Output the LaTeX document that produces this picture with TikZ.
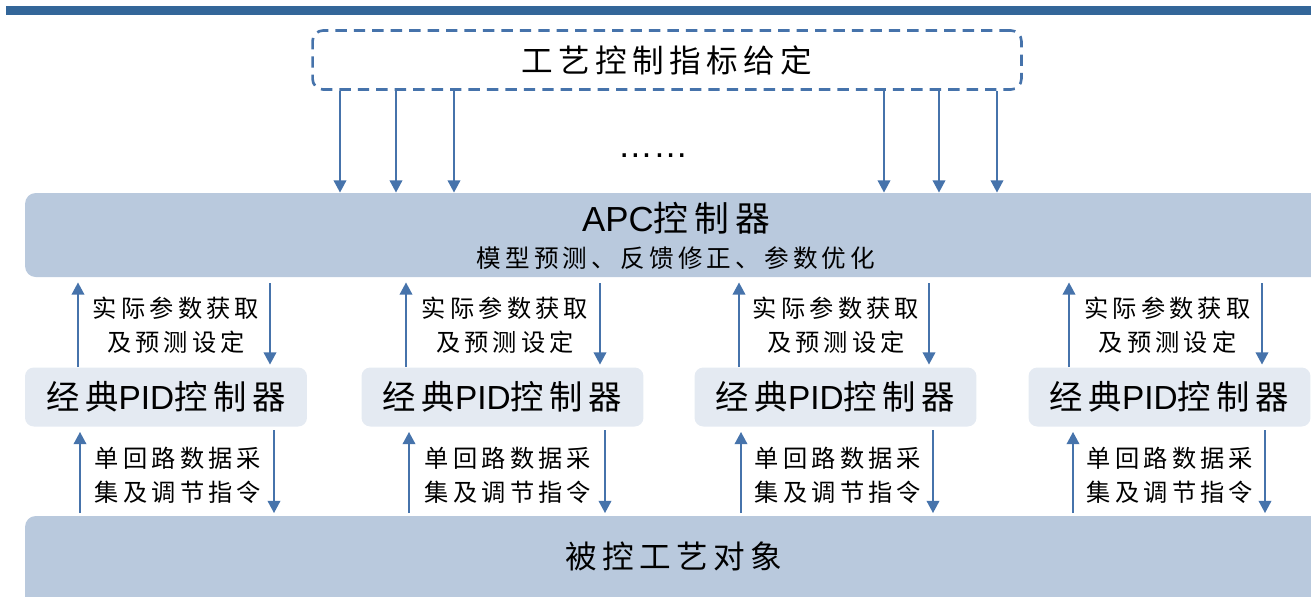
\documentclass[tikz,border=0pt]{standalone}
\usepackage{fontspec}
\setmainfont{Liberation Sans}
\newfontfamily\cjk[LetterSpace=17]{Noto Sans CJK SC}
\usetikzlibrary{arrows.meta}

\definecolor{bandblue}{HTML}{336699}
\definecolor{linkblue}{HTML}{4673AB}
\definecolor{layerfill}{HTML}{B9C9DD}
\definecolor{pidfill}{HTML}{E4EAF2}

\tikzset{
    target box/.style={draw=linkblue, line width=1.5pt, dash pattern=on 6.5pt off 4pt,
        rounded corners=6pt, minimum width=14.18cm, minimum height=1.18cm},
    layer box/.style={fill=layerfill, rounded corners=6pt, minimum width=26.2cm},
    pid box/.style={fill=pidfill, rounded corners=5pt, minimum width=5.64cm,
        minimum height=1.18cm, font=\fontsize{19}{22}\selectfont},
    link/.style={-{Triangle[length=7pt, width=7pt]}, line width=1.5pt, linkblue},
    label text/.style={font=\fontsize{13.8}{19.4}\selectfont\cjk, align=center, inner sep=0pt},
}

\begin{document}
\begin{tikzpicture}[x=0.02cm, y=-0.02cm]

    \useasboundingbox (0,0) rectangle (1311,596);

    % Top band
    \fill[bandblue] (6,6) rectangle (1311,15);

    % Process targets
    \node[target box, font=\fontsize{18}{22}\selectfont\cjk] (target) at (667,60) {工艺控制指标给定};

    % APC layer
    \node[layer box, minimum height=1.68cm] (apc) at (680,235) {};
    \node[font=\fontsize{19.8}{22}\selectfont, inner sep=0pt] (apctitle) at (676,218) {APC{\cjk 控制器}};
    \node[font=\fontsize{14}{16}\selectfont\cjk, inner sep=0pt] (apcsub) at (676,258) {模型预测、反馈修正、参数优化};

    % Set-point arrows into the APC layer
    \foreach \x in {340, 396, 454, 884, 939, 997} {
        \draw[link] (target.south -| \x,0) -- (apc.north -| \x,0);
    }
    \node[font=\fontsize{20}{20}\selectfont, anchor=base] (dots) at (653,157) {……};

    % Controlled process
    \node[layer box, minimum height=2cm] (plant) at (680,566) {};
    \node[font=\fontsize{18}{22}\selectfont\cjk, inner sep=0pt] (plantlabel) at (674,556) {被控工艺对象};

    % PID controllers with their links
    \foreach \i/\cx/\ua/\da/\ub/\db in {1/166/78/270/80/274, 2/502.5/406/600/409/605,
                                       3/835.5/739/929/741/933, 4/1169.5/1069/1262/1073/1265} {
        \node[pid box] (pid\i) at (\cx,397) {{\cjk 经典}PID{\cjk 控制器}};

        % APC <-> PID
        \draw[link, shorten >=0.1cm] (pid\i.north -| \ua,0) -- (apc.south -| \ua,0);
        \draw[link, shorten <=0.12cm, shorten >=0.05cm] (apc.south -| \da,0) -- (pid\i.north -| \da,0);
        \node[label text] (upl\i) at ({(\ua+\da)/2+2},325) {实际参数获取\\及预测设定};

        % PID <-> process
        \draw[link, shorten <=0.05cm, shorten >=0.1cm] (plant.north -| \ub,0) -- (pid\i.south -| \ub,0);
        \node[coordinate] (dtop\i) at (\db,430) {};
        \draw[link, shorten >=0.05cm] (dtop\i) -- (plant.north -| \db,0);
        \node[label text] (lowl\i) at ({(\ub+\db)/2+1},475) {单回路数据采\\集及调节指令};
    }

\end{tikzpicture}
\end{document}
